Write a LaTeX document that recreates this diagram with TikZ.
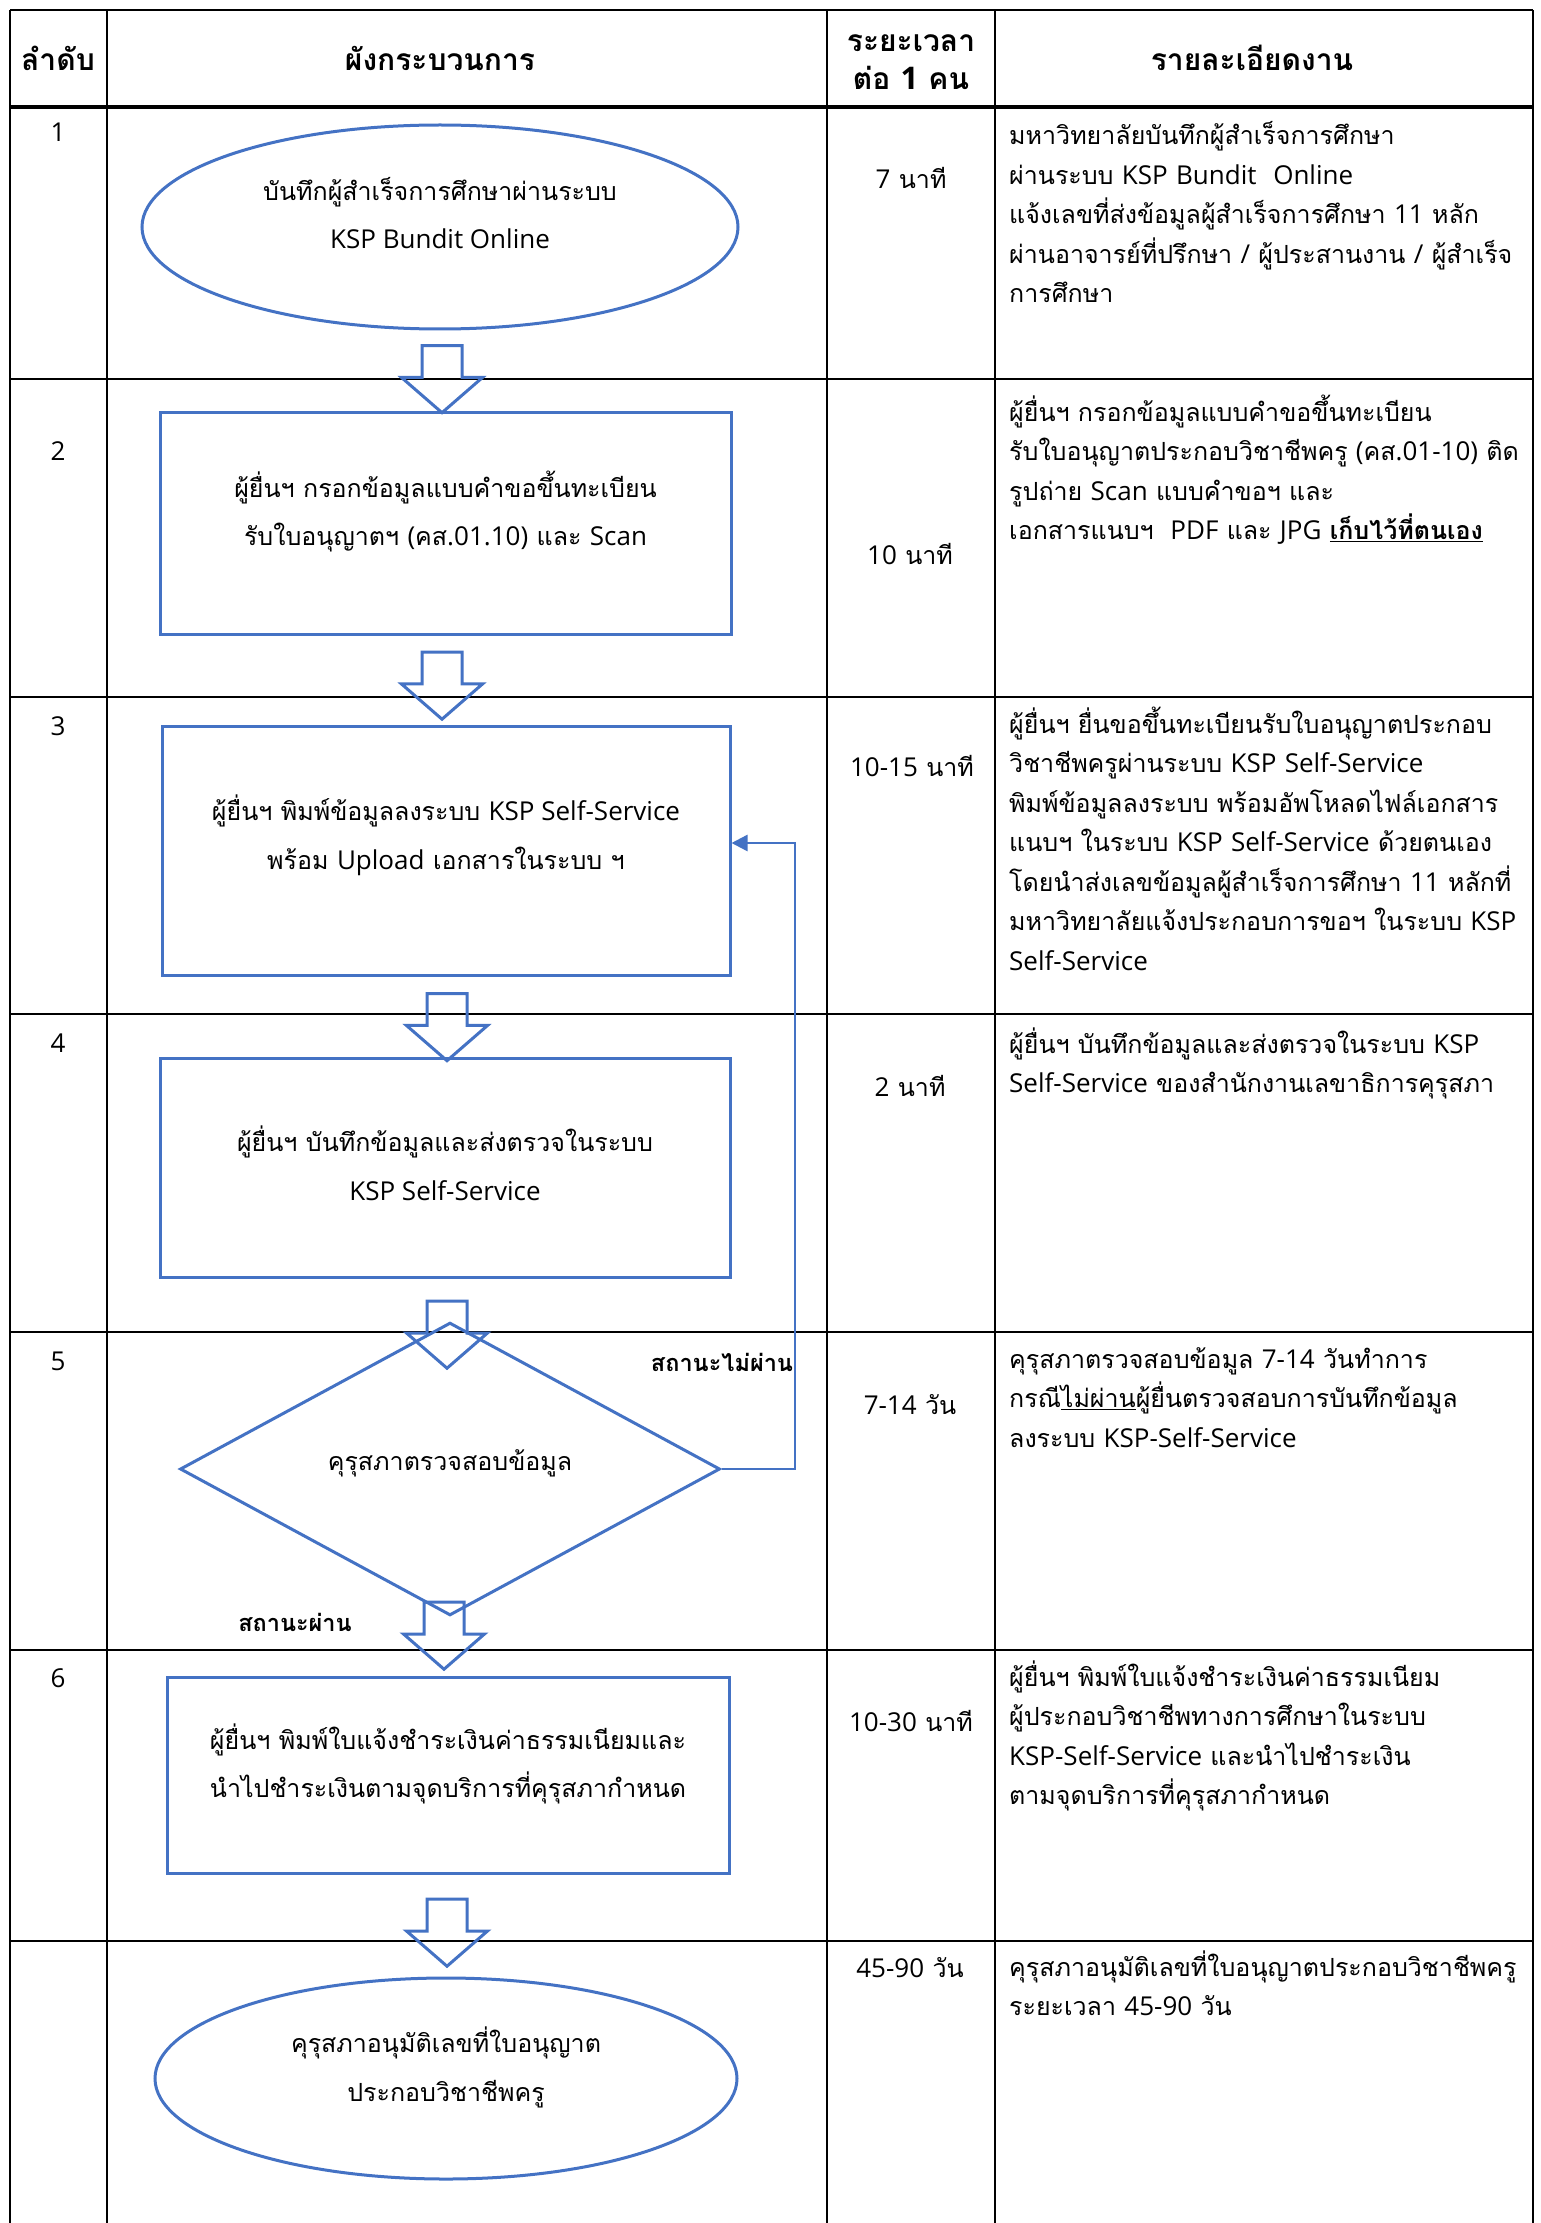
\documentclass[tikz,border=0pt]{standalone}
\usepackage{fontspec}
\setmainfont[Script=Thai]{Loma}
\newfontfamily\latf[Scale=1.04]{Open Sans}
\newcommand\eng[1]{{\latf #1}}
\newcommand\flowtxt[2]{\raisebox{#1}[\height][\depth]{\begin{tabular}{@{}c@{}}#2\end{tabular}}}
\usetikzlibrary{shapes.geometric,shapes.arrows,arrows.meta}
\definecolor{flowblue}{HTML}{4472C4}
\newcommand\detailfont{\fontsize{25}{39.5}\selectfont}
\newcommand\flowfont{\fontsize{25}{48.5}\selectfont}
\newcommand\headfont{\fontsize{30}{34}\selectfont\bfseries}
\newcommand\lblfont{\fontsize{23.5}{30}\selectfont\bfseries}
\begin{document}
\begin{tikzpicture}[x=1pt,y=-1pt,
  tabline/.style={line width=2.5pt,black},
  headline/.style={line width=3.5pt,black},
  flowshape/.style={draw=flowblue,line width=3pt,inner sep=0pt,font=\flowfont},
  flowbox/.style={flowshape,rectangle},
  flowell/.style={flowshape,ellipse},
  flowdia/.style={flowshape,diamond},
  downarrow/.style={draw=flowblue,line width=3pt,single arrow,rotate=-90,
     minimum height=67pt,inner xsep=0pt,inner ysep=18.5pt,
     single arrow head extend=20.5pt,single arrow tip angle=98},
  fbline/.style={draw=flowblue,line width=2.5pt,-{Triangle[length=16pt,width=16pt]}},
  headtxt/.style={anchor=base,inner sep=0pt,font=\headfont},
  numtxt/.style={anchor=base,inner sep=0pt,font=\detailfont},
  timetxt/.style={anchor=base,inner sep=0pt,font=\detailfont},
  detail/.style={anchor=base west,inner sep=0pt,text width=800pt,align=left,font=\detailfont},
  lbl/.style={anchor=base,inner sep=0pt,font=\lblfont}
]
\fill[white] (0,0) rectangle (1540,2223);
\useasboundingbox (0,0) rectangle (1540,2223);

% table grid
\foreach \yy in {10,379,697,1014,1332,1650,1941}
  \draw[tabline] (10,\yy) -- (1533,\yy);
\draw[headline] (10,107) -- (1533,107);
\foreach \xx in {10,107,827,995,1533}
  \draw[tabline] (\xx,10) -- (\xx,2223);

% header
\node[headtxt] (h1) at (58,71) {ลำดับ};
\node[headtxt] (h2) at (440,71) {ผังกระบวนการ};
\node[headtxt] (h3) at (911,52) {ระยะเวลา};
\node[headtxt] (h3b) at (911,90) {ต่อ \eng{1} คน};
\node[headtxt] (h4) at (1252,71) {รายละเอียดงาน};

% row numbers
\node[numtxt] (n1) at (58,142) {\eng{1}};
\node[numtxt] (n2) at (58,460) {\eng{2}};
\node[numtxt] (n3) at (58,735) {\eng{3}};
\node[numtxt] (n4) at (58,1052) {\eng{4}};
\node[numtxt] (n5) at (58,1370) {\eng{5}};
\node[numtxt] (n6) at (58,1687) {\eng{6}};

% times
\node[timetxt] (t1) at (911,189) {\eng{7} นาที};
\node[timetxt] (t2) at (910,564) {\eng{10} นาที};
\node[timetxt] (t3) at (912,776) {\eng{10-15} นาที};
\node[timetxt] (t4) at (910,1096) {\eng{2} นาที};
\node[timetxt] (t5) at (910,1414) {\eng{7-14} วัน};
\node[timetxt] (t6) at (911,1731) {\eng{10-30} นาที};
\node[timetxt] (t7) at (910,1977) {\eng{45-90} วัน};

% details
\node[detail] (d1) at (1009,145) {มหาวิทยาลัยบันทึกผู้สำเร็จการศึกษา\\ผ่านระบบ \eng{KSP Bundit\ \ Online}\\แจ้งเลขที่ส่งข้อมูลผู้สำเร็จการศึกษา \eng{11} หลัก\\ผ่านอาจารย์ที่ปรึกษา \eng{/} ผู้ประสานงาน \eng{/} ผู้สำเร็จ\\การศึกษา};
\node[detail] (d2) at (1009,421) {ผู้ยื่นฯ กรอกข้อมูลแบบคำขอขึ้นทะเบียน\\รับใบอนุญาตประกอบวิชาชีพครู \eng{(}คส\eng{.01-10)} ติด\\รูปถ่าย \eng{Scan} แบบคำขอฯ และ\\เอกสารแนบฯ\ \ \eng{PDF} และ \eng{JPG} \textbf{\underline{เก็บไว้ที่ตนเอง}}};
\node[detail] (d3) at (1009,733) {ผู้ยื่นฯ ยื่นขอขึ้นทะเบียนรับใบอนุญาตประกอบ\\วิชาชีพครูผ่านระบบ \eng{KSP Self-Service}\\พิมพ์ข้อมูลลงระบบ พร้อมอัพโหลดไฟล์เอกสาร\\แนบฯ ในระบบ \eng{KSP Self-Service} ด้วยตนเอง\\โดยนำส่งเลขข้อมูลผู้สำเร็จการศึกษา \eng{11} หลักที่\\มหาวิทยาลัยแจ้งประกอบการขอฯ ในระบบ \eng{KSP}\\\eng{Self-Service}};
\node[detail] (d4) at (1009,1053) {ผู้ยื่นฯ บันทึกข้อมูลและส่งตรวจในระบบ \eng{KSP}\\\eng{Self-Service} ของสำนักงานเลขาธิการคุรุสภา};
\node[detail] (d5) at (1009,1368) {คุรุสภาตรวจสอบข้อมูล \eng{7-14} วันทำการ\\กรณี\underline{ไม่ผ่าน}ผู้ยื่นตรวจสอบการบันทึกข้อมูล\\ลงระบบ \eng{KSP-Self-Service}};
\node[detail] (d6) at (1009,1686) {ผู้ยื่นฯ พิมพ์ใบแจ้งชำระเงินค่าธรรมเนียม\\ผู้ประกอบวิชาชีพทางการศึกษาในระบบ\\\eng{KSP-Self-Service} และนำไปชำระเงิน\\ตามจุดบริการที่คุรุสภากำหนด};
\node[detail] (d7) at (1009,1976) {คุรุสภาอนุมัติเลขที่ใบอนุญาตประกอบวิชาชีพครู\\ระยะเวลา \eng{45-90} วัน};

% flow shapes
\node[flowell,minimum width=596pt,minimum height=204pt] (s1) at (440,227) {\flowtxt{12pt}{บันทึกผู้สำเร็จการศึกษาผ่านระบบ\\\eng{KSP Bundit Online}}};
\node[flowbox,minimum width=571pt,minimum height=222pt] (s2) at (445.5,523) {\flowtxt{11pt}{ผู้ยื่นฯ กรอกข้อมูลแบบคำขอขึ้นทะเบียน\\รับใบอนุญาตฯ \eng{(}คส\eng{.01.10)} และ \eng{Scan}}};
\node[flowbox,minimum width=568pt,minimum height=249pt] (s3) at (446,850.5) {\flowtxt{15pt}{ผู้ยื่นฯ พิมพ์ข้อมูลลงระบบ \eng{KSP Self-Service}\\พร้อม \eng{Upload} เอกสารในระบบ ฯ}};
\node[flowbox,minimum width=570pt,minimum height=219pt] (s4) at (445,1167.5) {\flowtxt{1pt}{ผู้ยื่นฯ บันทึกข้อมูลและส่งตรวจในระบบ\\\eng{KSP Self-Service}}};
\node[flowdia,minimum width=540pt,minimum height=219pt] (s5) at (450,1469) {\flowtxt{8pt}{คุรุสภาตรวจสอบข้อมูล}};
\node[flowbox,minimum width=562pt,minimum height=196pt] (s6) at (448,1775) {\flowtxt{11pt}{ผู้ยื่นฯ พิมพ์ใบแจ้งชำระเงินค่าธรรมเนียมและ\\นำไปชำระเงินตามจุดบริการที่คุรุสภากำหนด}};
\node[flowell,minimum width=582pt,minimum height=201pt] (s7) at (446,2078.5) {\flowtxt{11pt}{คุรุสภาอนุมัติเลขที่ใบอนุญาต\\ประกอบวิชาชีพครู}};

% block arrows
\node[downarrow] (a1) at (442,370.5) {};
\node[downarrow] (a2) at (442,677) {};
\node[downarrow] (a3) at (447,1018.5) {};
\node[downarrow] (a4) at (447,1326) {};
\node[downarrow] (a5) at (444,1627) {};
\node[downarrow] (a6) at (447,1924) {};

% feedback loop
\coordinate (fbcorner) at (795,1469);
\draw[fbline] (s5.east) -- (fbcorner) |- ([yshift=7.5pt]s3.east);

% labels
\node[lbl] (nopass) at (722,1371) {สถานะไม่ผ่าน};
\node[lbl] (pass) at (295,1631) {สถานะผ่าน};
\end{tikzpicture}
\end{document}
